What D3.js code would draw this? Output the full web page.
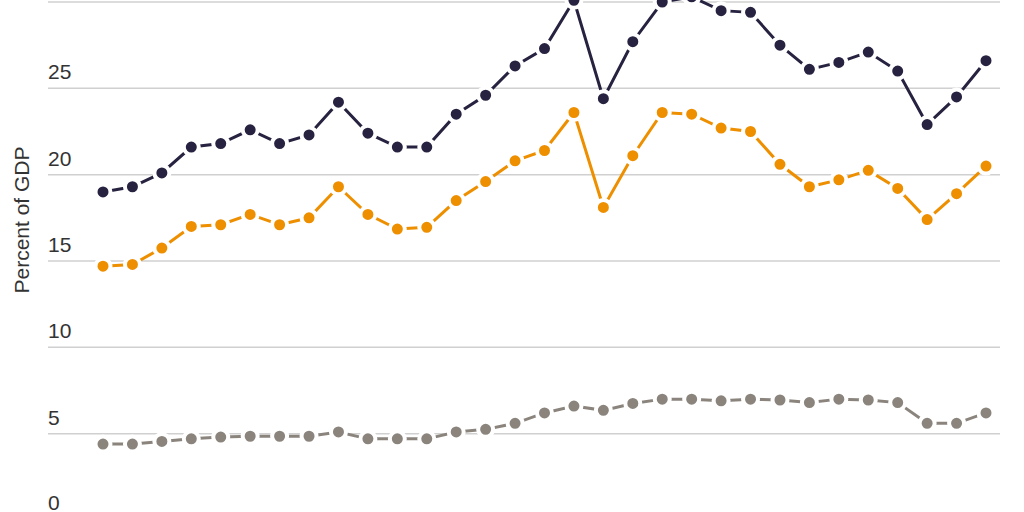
<!DOCTYPE html>
<html><head><meta charset="utf-8">
<script src="https://cdn.jsdelivr.net/npm/d3@7"></script>
<style>body{margin:0;background:#fff}text{font-family:"Liberation Sans",Arial,sans-serif}</style>
</head><body><svg id="vis" width="1024" height="512"></svg>
<script>
const darkValues = [19.0,19.3,20.1,21.6,21.8,22.6,21.8,22.3,24.2,22.4,21.6,21.6,23.5,24.6,26.3,27.3,30.1,24.4,27.7,30.0,30.3,29.5,29.4,27.5,26.1,26.5,27.1,26.0,22.9,24.5,26.6];
const orangeValues = [14.7,14.8,15.75,17.0,17.1,17.7,17.1,17.5,19.3,17.7,16.85,16.95,18.5,19.6,20.8,21.4,23.6,18.1,21.1,23.6,23.5,22.7,22.5,20.6,19.3,19.7,20.25,19.2,17.4,18.9,20.5];
const grayValues = [4.4,4.4,4.55,4.7,4.8,4.85,4.85,4.85,5.1,4.7,4.7,4.7,5.1,5.25,5.6,6.2,6.6,6.35,6.75,7.0,7.0,6.9,7.0,6.95,6.8,7.0,6.95,6.8,5.6,5.6,6.2];
const yTicks = [0,5,10,15,20,25,30];
const series = [
  {values: grayValues, color: "#8a847d"},
  {values: orangeValues, color: "#ee8f00"},
  {values: darkValues, color: "#262240"}
];

const svg = d3.select("#vis");
const x = d3.scaleLinear().domain([0, darkValues.length - 1]).range([103, 986]);
const y = d3.scaleLinear().domain([0, 30]).range([520, 2]);

const grid = svg.append("g");
grid.selectAll("line").data(yTicks).join("line")
  .attr("x1", 48).attr("x2", 1000)
  .attr("y1", d => y(d)).attr("y2", d => y(d))
  .attr("stroke", "#d0d0d0").attr("stroke-width", 1.5);
grid.selectAll("text").data(yTicks.filter(d => d < 30)).join("text")
  .attr("x", 48).attr("y", d => Math.min(y(d) - 9, 510))
  .attr("font-size", 21).attr("fill", "#333")
  .text(d => d);

svg.append("text")
  .attr("transform", "translate(29,220) rotate(-90)")
  .attr("text-anchor", "middle").attr("font-size", 21).attr("fill", "#333")
  .text("Percent of GDP");

const line = d3.line().x((d, i) => x(i)).y(d => y(d));
series.forEach(s => {
  const g = svg.append("g");
  g.append("path").attr("d", line(s.values))
    .attr("fill", "none").attr("stroke", s.color).attr("stroke-width", 3);
  g.selectAll("circle").data(s.values).join("circle")
    .attr("cx", (d, i) => x(i)).attr("cy", d => y(d)).attr("r", 7.5)
    .attr("fill", s.color).attr("stroke", "#fff").attr("stroke-width", 4);
});
</script></body></html>
